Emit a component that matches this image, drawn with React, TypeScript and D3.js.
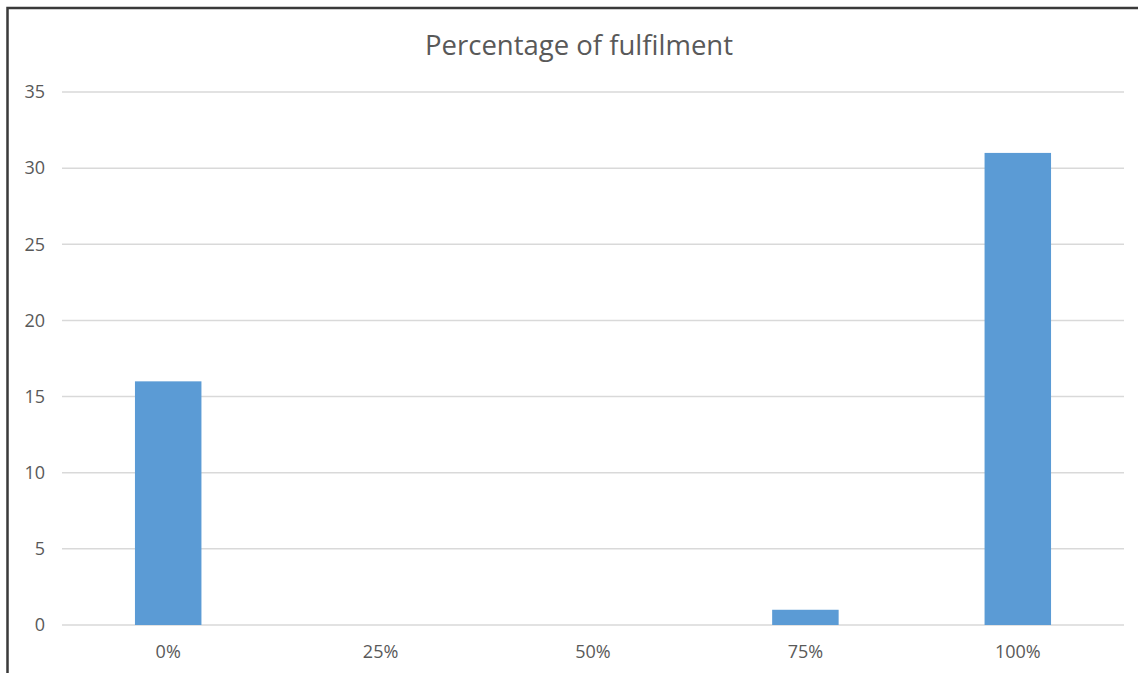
import React from "react";
import * as d3 from "d3";

const categories = ["0%", "25%", "50%", "75%", "100%"];
const values = [16, 0, 0, 1, 31];
const yTicks = [0, 5, 10, 15, 20, 25, 30, 35];
const title = "Percentage of fulfilment";

export default function App() {
  const W = 1138, H = 673;
  const left = 62, right = 1124, top = 92, bottom = 625;
  const x = d3.scaleBand<string>().domain(categories).range([left, right]).paddingInner(0.687).paddingOuter(0.3435);
  const y = d3.scaleLinear().domain([0, 35]).range([bottom, top]);
  const font = "'Open Sans', sans-serif";
  return (
    <svg width={W} height={H} style={{ position: "absolute", left: 0, top: 0, background: "#fff" }}>
      <rect x={7.5} y={8} width={W + 20} height={H + 20} fill="#fff" stroke="#3a3a3a" strokeWidth={2.5} />
      <text x={579} y={55} textAnchor="middle" fontFamily={font} fontSize={27.5} fill="#595959">{title}</text>
      {yTicks.map((t) => (
        <g key={t}>
          <line x1={left} x2={right} y1={y(t)} y2={y(t)} stroke="#d9d9d9" strokeWidth={1.5} />
          <text x={45} y={y(t)} dy="0.35em" textAnchor="end" fontFamily={font} fontSize={18} fill="#595959">{t}</text>
        </g>
      ))}
      {categories.map((c, i) => (
        <g key={c}>
          {values[i] > 0 && (
            <rect x={x(c)} y={y(values[i])} width={x.bandwidth()} height={y(0) - y(values[i])} fill="#5b9bd5" />
          )}
          <text x={(x(c) as number) + x.bandwidth() / 2} y={658} textAnchor="middle" fontFamily={font} fontSize={18} fill="#595959">{c}</text>
        </g>
      ))}
    </svg>
  );
}
